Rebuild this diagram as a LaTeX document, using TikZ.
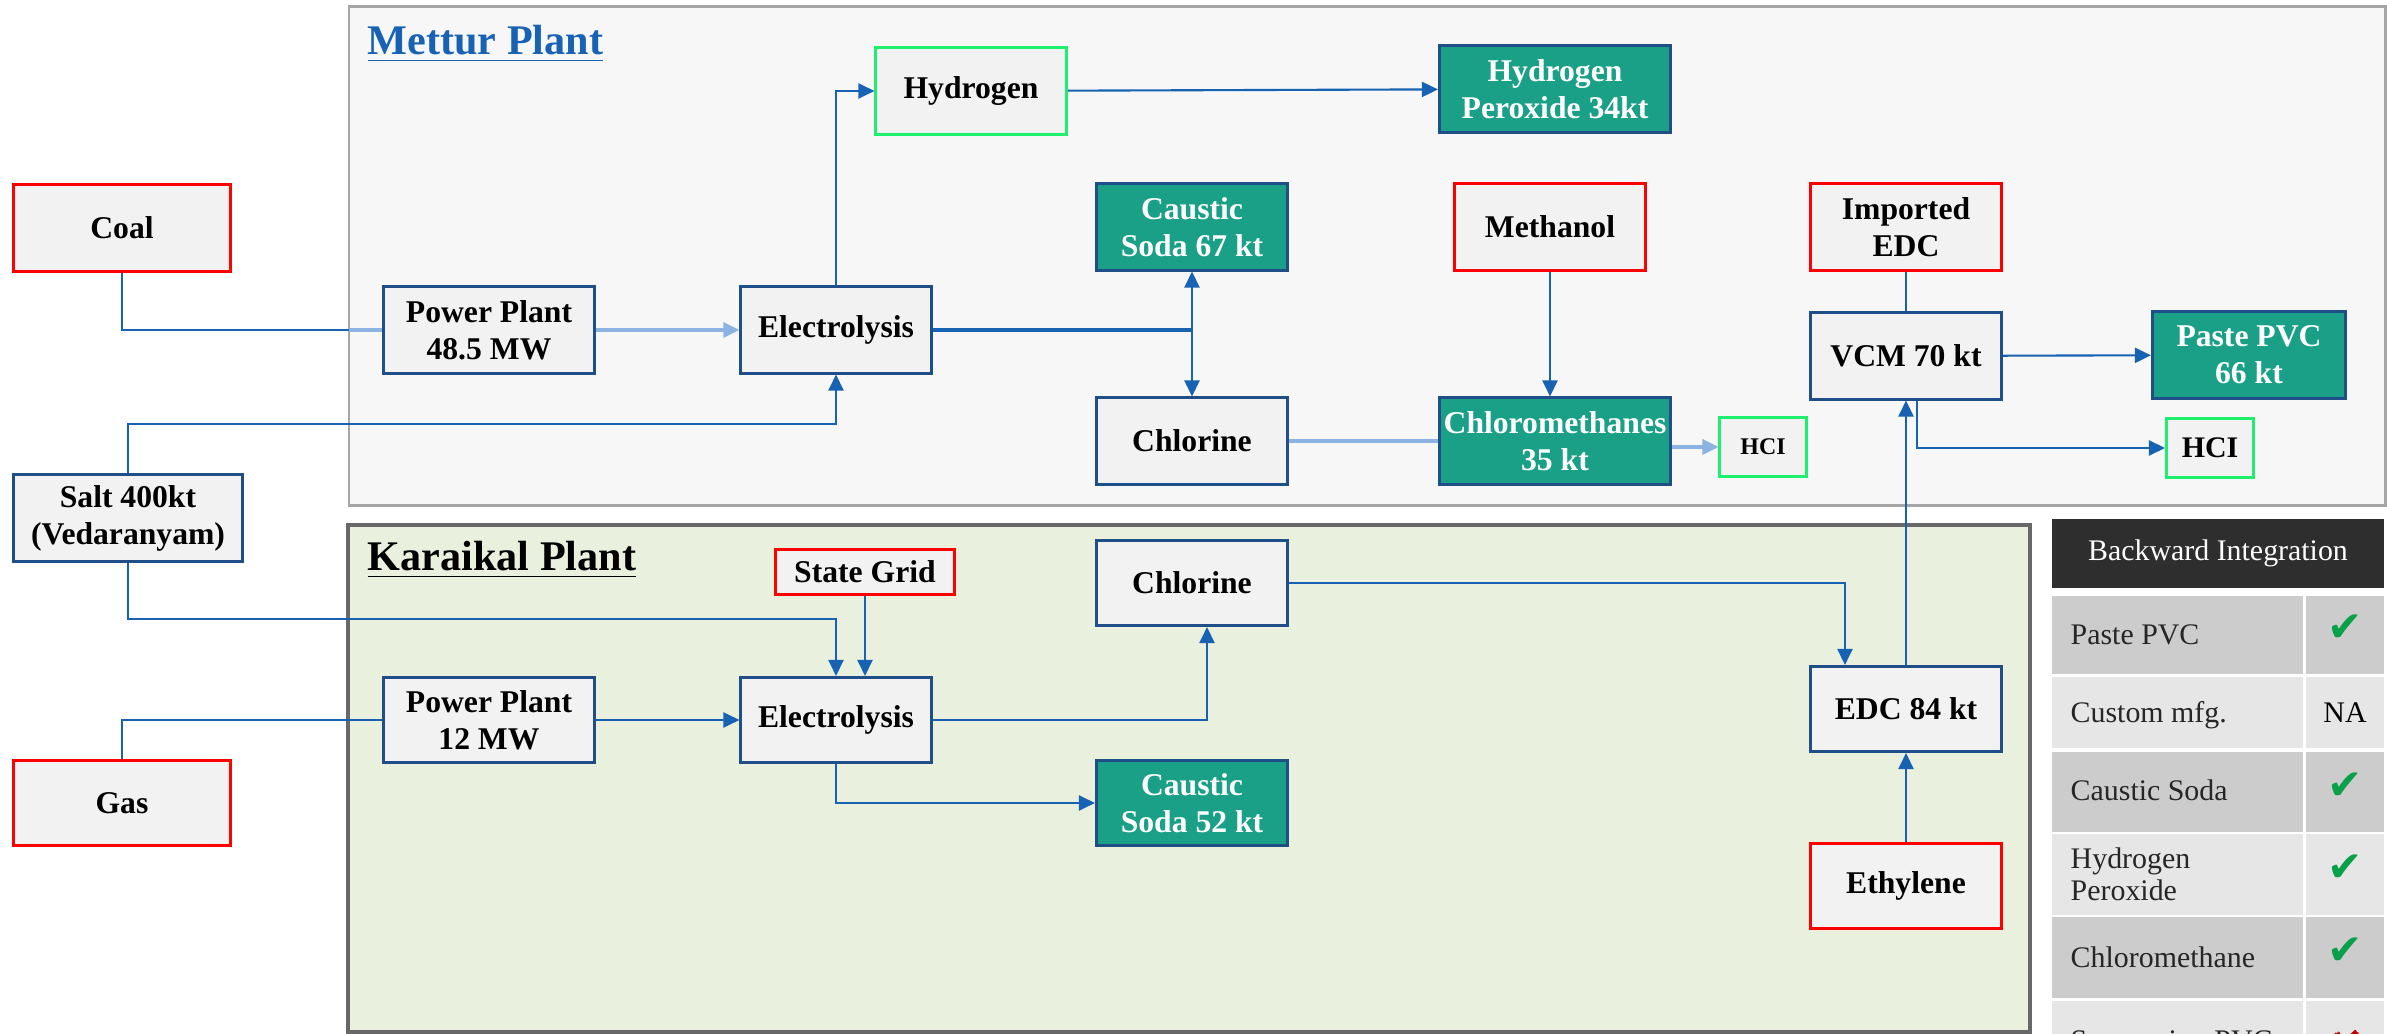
\documentclass[tikz,border=0pt]{standalone}
\usepackage{fontspec}
\setmainfont{Liberation Serif}
\newfontfamily\marksfont{DejaVu Sans}
\usetikzlibrary{arrows.meta}

\definecolor{flowblue}{HTML}{1762B2}
\definecolor{flowlight}{HTML}{8DB3E2}
\definecolor{boxline}{HTML}{1F4E89}
\definecolor{boxfill}{HTML}{F2F2F2}
\definecolor{inred}{HTML}{FF0000}
\definecolor{outgreen}{HTML}{1DF06C}
\definecolor{prodteal}{HTML}{1AA087}
\definecolor{metturfill}{HTML}{F7F7F7}
\definecolor{metturline}{HTML}{A6A6A6}
\definecolor{karaikalfill}{HTML}{E9F0DD}
\definecolor{karaikalline}{HTML}{686868}
\definecolor{tablehead}{HTML}{2E2E2E}
\definecolor{rowdark}{HTML}{CCCCCC}
\definecolor{rowlight}{HTML}{E6E6E6}
\definecolor{tickgreen}{HTML}{0AA04A}
\definecolor{crossred}{HTML}{C00000}

\newcommand\biyes{{\marksfont\fontsize{12}{12}\selectfont\color{tickgreen}✔}}
\newcommand\bino{{\marksfont\fontsize{12}{12}\selectfont\color{crossred}✘}}
\newcommand\bina{{\fontsize{8.5}{10}\selectfont NA}}

\begin{document}
\begin{tikzpicture}[x=0.01cm, y=-0.01cm,
    >={Triangle[length=1.6mm, width=1.5mm]},
    unitbox/.style={rectangle, draw=boxline, fill=boxfill, line width=0.85pt,
                    minimum width=1.91cm, minimum height=0.86cm, inner sep=1pt,
                    align=center, font=\fontsize{9}{10.5}\selectfont\bfseries},
    feed/.style={unitbox, draw=inred},
    byprod/.style={unitbox, draw=outgreen},
    product/.style={unitbox, fill=prodteal, text=white},
    flow/.style={draw=flowblue, line width=0.6pt},
    flowpale/.style={draw=flowlight, line width=0.95pt},
    plantname/.style={anchor=base west, inner sep=0pt,
                      font=\fontsize{12}{14}\selectfont\bfseries},
    cell/.style={anchor=west, inner sep=0pt, align=left, text=black!85,
                 font=\fontsize{8.5}{9.2}\selectfont},
]
\useasboundingbox (0,0) rectangle (2387,1034);
\clip (0,0) rectangle (2387,1034);

% plant areas
\draw[metturline, fill=metturfill, line width=0.85pt] (349,7) rectangle (2385,506);
\draw[karaikalline, fill=karaikalfill, line width=1.1pt] (348,525) rectangle (2030,1032);
\node[plantname, text=flowblue] (mettur) at (367,55) {\underline{Mettur Plant}};
\node[plantname] (karaikal) at (367,571) {\underline{Karaikal Plant}};

% raw materials outside
\path
    (122,228) node[feed, minimum width=2.17cm] (coal) {Coal}
    (128,518) node[unitbox, minimum width=2.28cm] (salt) {Salt 400kt\\(Vedaranyam)}
    (122,803) node[feed, minimum width=2.17cm, minimum height=0.85cm] (gas) {Gas}
    ;

% Mettur
\path
    (489,330)  node[unitbox, minimum width=2.10cm] (ppm) {Power Plant\\48.5 MW}
    (836,330)  node[unitbox, minimum width=1.90cm] (elm) {Electrolysis}
    (971,91)   node[byprod, minimum width=1.90cm] (hyd) {Hydrogen}
    (1555,89)  node[product, minimum width=2.31cm] (hpo) {Hydrogen\\Peroxide 34kt}
    (1192,227) node[product] (csm) {Caustic\\Soda 67 kt}
    (1550,227) node[feed] (meth) {Methanol}
    (1192,441) node[unitbox] (clm) {Chlorine}
    (1555,441) node[product, minimum width=2.31cm] (cmeth) {Chloromethanes\\35 kt}
    (1763,447) node[byprod, minimum width=0.86cm, minimum height=0.58cm,
                    font=\fontsize{6.8}{8}\selectfont\bfseries] (hclm) {HCI}
    (1906,227) node[feed] (iedc) {Imported\\EDC}
    (1906,356) node[unitbox] (vcm) {VCM 70 kt}
    (2249,355) node[product, minimum width=1.93cm] (pvc) {Paste PVC\\66 kt}
    (2210,448) node[byprod, minimum width=0.87cm, minimum height=0.58cm,
                    font=\fontsize{8.5}{10}\selectfont\bfseries] (hclv) {HCI}
    ;

% Karaikal
\path
    (865,572)  node[feed, minimum width=1.78cm, minimum height=0.45cm] (grid) {State Grid}
    (1192,583) node[unitbox, minimum height=0.85cm] (clk) {Chlorine}
    (489,720)  node[unitbox, minimum width=2.10cm, minimum height=0.85cm] (ppk) {Power Plant\\12 MW}
    (836,720)  node[unitbox, minimum width=1.90cm, minimum height=0.85cm] (elk) {Electrolysis}
    (1192,803) node[product, minimum height=0.84cm] (csk) {Caustic\\Soda 52 kt}
    (1906,709) node[unitbox, minimum height=0.85cm] (edc) {EDC 84 kt}
    (1906,886) node[feed, minimum height=0.85cm] (eth) {Ethylene}
    ;

% bends
\coordinate (coalin) at (349,330);
\coordinate (saltup) at (836,424);
\coordinate (saltdown) at (836,619);
\coordinate (jct) at (elm.east -| csm);

% Mettur flows
\draw[flow] (coal.south) |- (coalin);
\draw[flowpale] (coalin) -- (ppm.west);
\draw[flowpale, ->] (ppm) -- (elm);
\draw[flow, ->] (salt.north) |- (saltup) -- (elm.south);
\draw[flow, ->] (elm.north) |- (hyd.west);
\draw[flow, ->] (hyd) -- (hpo);
\draw[flow, line width=1.2pt] (elm.east) -- (jct);
\draw[flow, ->] (jct) -- (csm.south);
\draw[flow, ->] (jct) -- (clm.north);
\draw[flow, ->] (meth) -- (meth |- cmeth.north);
\draw[flowpale] (clm) -- (cmeth);
\draw[flowpale, ->] (cmeth.east |- hclm) -- (hclm.west);
\draw[flow] (iedc) -- (vcm);
\draw[flow, ->] (vcm) -- (pvc);
\draw[flow, ->] ([xshift=0.11cm]vcm.south) |- (hclv.west);

% Karaikal flows
\draw[flow, ->] (salt.south) |- (saltdown) -- (elk.north);
\draw[flow, ->] (grid) -- (elk.north -| grid);
\draw[flow] (gas.north) |- (ppk.west);
\draw[flow, ->] (ppk) -- (elk);
\draw[flow, ->] (elk.east) -| ([xshift=0.15cm]clk.south);
\draw[flow, ->] (elk.south) |- (csk.west);
\draw[flow, ->] (clk.east) -| ([xshift=-0.61cm]edc.north);
\draw[flow, ->] (eth) -- (edc);
\draw[flow, ->] (edc) -- (vcm);

% backward integration table
\node[fill=tablehead, minimum width=3.32cm, minimum height=0.69cm, inner sep=0pt,
      text=white, font=\fontsize{8.5}{10}\selectfont] (bihead) at (2218,553.5) {Backward Integration};
\foreach \ya/\yb/\shade/\txt/\yt/\res/\dy [count=\i] in
    {596/674/rowdark/Paste PVC/0/\biyes/-7,
     677/748/rowlight/Custom mfg./3/\bina/0,
     752/832/rowdark/Caustic Soda/-2/\biyes/-6,
     834/915/rowlight/{Hydrogen\\Peroxide}/0/\biyes/-6,
     917/998/rowdark/Chloromethane/0/\biyes/-6,
     1001/1080/rowlight/Suspension PVC/3/\bino/5}
{
    \fill[\shade] (2052,\ya) rectangle (2303,\yb);
    \fill[\shade] (2306,\ya) rectangle (2384,\yb);
    \node[cell] (bi\i) at (2070,{(\ya+\yb)/2+\yt}) {\txt};
    \node[inner sep=0pt] (bimark\i) at (2345,{(\ya+\yb)/2+\dy}) {\res};
}

\end{tikzpicture}
\end{document}
